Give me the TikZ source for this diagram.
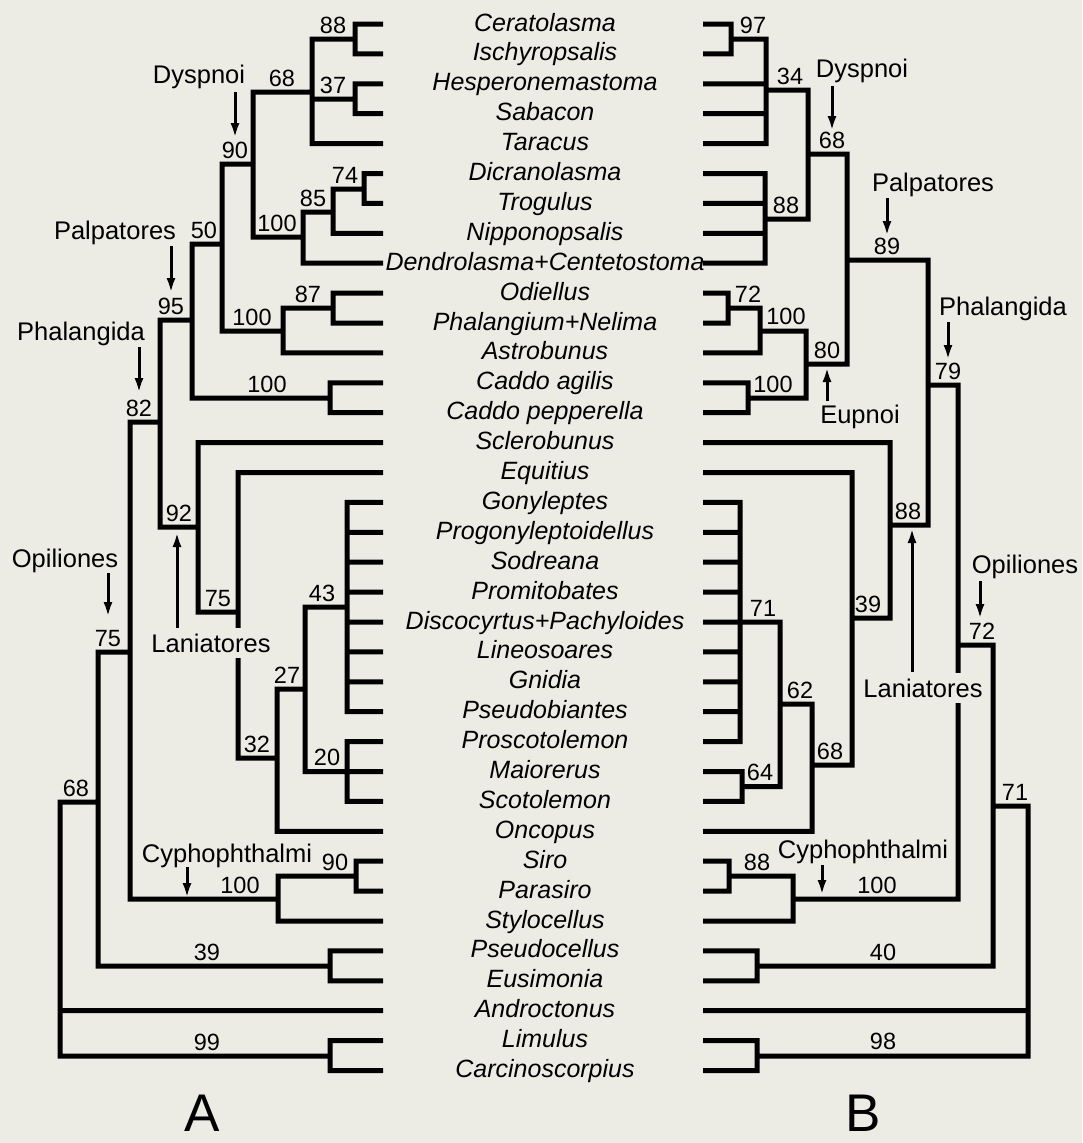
\documentclass[tikz,border=0pt]{standalone}
\usepackage{fontspec}
\setmainfont{Liberation Sans}
\usetikzlibrary{arrows.meta}
\definecolor{bg}{RGB}{236,236,229}
\begin{document}
\begin{tikzpicture}[x=1pt,y=-1pt,
  br/.style={line width=5pt, line join=miter},
  tax/.style={font=\fontsize{25}{30}\selectfont\itshape, anchor=base, inner sep=0pt},
  num/.style={font=\fontsize{23.5}{28}\selectfont, anchor=base, inner sep=0pt},
  clade/.style={font=\fontsize{25.5}{30}\selectfont, anchor=base, inner sep=0pt},
  gapclade/.style={clade, fill=bg, inner xsep=0pt, inner ysep=6pt},
  arr/.style={line width=3pt, -{Latex[length=15pt,width=9pt]}},
  panel/.style={font=\fontsize{53}{60}\selectfont, anchor=base, inner sep=0pt}]
\fill[bg] (0,0) rectangle (1082,1143);
\useasboundingbox (0,0) rectangle (1082,1143);

% taxa
\foreach \i/\t in {0/Ceratolasma, 1/Ischyropsalis, 2/Hesperonemastoma, 3/Sabacon,
  4/Taracus, 5/Dicranolasma, 6/Trogulus, 7/Nipponopsalis, 8/Dendrolasma+Centetostoma,
  9/Odiellus, 10/Phalangium+Nelima, 11/Astrobunus, 12/Caddo agilis, 13/Caddo pepperella,
  14/Sclerobunus, 15/Equitius, 16/Gonyleptes, 17/Progonyleptoidellus, 18/Sodreana,
  19/Promitobates, 20/Discocyrtus+Pachyloides, 21/Lineosoares, 22/Gnidia,
  23/Pseudobiantes, 24/Proscotolemon, 25/Maiorerus, 26/Scotolemon, 27/Oncopus,
  28/Siro, 29/Parasiro, 30/Stylocellus, 31/Pseudocellus, 32/Eusimonia,
  33/Androctonus, 34/Limulus, 35/Carcinoscorpius} {
  \coordinate (L\i) at (383, 24+29.9*\i);
  \coordinate (R\i) at (703, 24+29.9*\i);
  \node[tax] (t\i) at (545, 31+29.9*\i) {\t};
}

% ---------- tree A ----------
\coordinate (a88) at (355,39);
\coordinate (a37) at (355,99);
\coordinate (a68) at (312,92);
\coordinate (a74) at (364,189);
\coordinate (a85) at (333,212);
\coordinate (a100d) at (303,237);
\coordinate (a90) at (253,164);
\coordinate (a87) at (333,308);
\coordinate (a100p) at (283,331);
\coordinate (a50) at (222,244);
\coordinate (a100c) at (330,398);
\coordinate (a95) at (192,320);
\coordinate (a43) at (347,607);
\coordinate (a20) at (347,771.5);
\coordinate (a27) at (305,689);
\coordinate (a32) at (277,758);
\coordinate (a75l) at (238,612);
\coordinate (a92) at (198,527);
\coordinate (a82) at (160,422);
\coordinate (a90c) at (356,876);
\coordinate (a100cy) at (278,899);
\coordinate (a75o) at (130,652);
\coordinate (a39) at (330,966);
\coordinate (a68o) at (98,802);
\coordinate (a99) at (330,1056);
\coordinate (aroot) at (60,930);

\draw[br] (a88) |- (L0)  (a88) |- (L1)
  (a37) |- (L2)  (a37) |- (L3)
  (a68) |- (a88)  (a68) |- (a37)  (a68) |- (L4)
  (a74) |- (L5)  (a74) |- (L6)
  (a85) |- (a74)  (a85) |- (L7)
  (a100d) |- (a85)  (a100d) |- (L8)
  (a90) |- (a68)  (a90) |- (a100d)
  (a87) |- (L9)  (a87) |- (L10)
  (a100p) |- (a87)  (a100p) |- (L11)
  (a50) |- (a90)  (a50) |- (a100p)
  (a100c) |- (L12)  (a100c) |- (L13)
  (a95) |- (a50)  (a95) |- (a100c)
  (a43) |- (L16)  (a43) |- (L17)  (a43) |- (L18)  (a43) |- (L19)
  (a43) |- (L20)  (a43) |- (L21)  (a43) |- (L22)  (a43) |- (L23)
  (a20) |- (L24)  (a20) -- (L25)  (a20) |- (L26)
  (a27) |- (a43)  (a27) |- (a20)
  (a32) |- (a27)  (a32) |- (L27)
  (a75l) |- (L15)  (a75l) |- (a32)
  (a92) |- (L14)  (a92) |- (a75l)
  (a82) |- (a95)  (a82) |- (a92)
  (a90c) |- (L28)  (a90c) |- (L29)
  (a100cy) |- (a90c)  (a100cy) |- (L30)
  (a75o) |- (a82)  (a75o) |- (a100cy)
  (a39) |- (L31)  (a39) |- (L32)
  (a68o) |- (a75o)  (a68o) |- (a39)
  (a99) |- (L34)  (a99) |- (L35)
  (aroot) |- (a68o)  (aroot) |- (L33)  (aroot) |- (a99);

% support values A
\node[num] (na88) at (333,33) {88};
\node[num] (na37) at (333,93) {37};
\node[num] (na68) at (282,86) {68};
\node[num] (na74) at (345,183) {74};
\node[num] (na85) at (313,206) {85};
\node[num] (na100d) at (277,231) {100};
\node[num] (na90) at (235,158) {90};
\node[num] (na87) at (308,302) {87};
\node[num] (na100p) at (252,325) {100};
\node[num] (na50) at (204,238) {50};
\node[num] (na100c) at (267,392) {100};
\node[num] (na95) at (171,314) {95};
\node[num] (na43) at (322,601) {43};
\node[num] (na20) at (327,765.5) {20};
\node[num] (na27) at (287,683) {27};
\node[num] (na32) at (257,752) {32};
\node[num] (na75l) at (218,606) {75};
\node[num] (na92) at (179,521) {92};
\node[num] (na82) at (139,416) {82};
\node[num] (na90c) at (335,870) {90};
\node[num] (na100cy) at (240,893) {100};
\node[num] (na75o) at (108,646) {75};
\node[num] (na39) at (207,960) {39};
\node[num] (na68o) at (76,796) {68};
\node[num] (na99) at (207,1050) {99};

% clade labels A
\node[clade] (cDysA) at (199,83) {Dyspnoi};
\node[clade] (cPalA) at (115,239) {Palpatores};
\node[clade] (cPhaA) at (81,340) {Phalangida};
\node[clade] (cOpiA) at (65,567) {Opiliones};
\node[gapclade] (cLanA) at (211,652) {Laniatores};
\node[clade] (cCypA) at (227,862) {Cyphophthalmi};
\coordinate (dA1) at (235,92);  \coordinate (dA2) at (235,138);
\coordinate (pA1) at (171,246); \coordinate (pA2) at (171,293);
\coordinate (hA1) at (139,347); \coordinate (hA2) at (139,393);
\coordinate (oA1) at (108,573); \coordinate (oA2) at (108,617);
\coordinate (lA1) at (177,628); \coordinate (lA2) at (177,532);
\coordinate (yA1) at (187,867); \coordinate (yA2) at (187,898);
\draw[arr] (dA1) -- (dA2);
\draw[arr] (pA1) -- (pA2);
\draw[arr] (hA1) -- (hA2);
\draw[arr] (oA1) -- (oA2);
\draw[arr] (lA1) -- (lA2);
\draw[arr] (yA1) -- (yA2);

% ---------- tree B ----------
\coordinate (b97) at (731,39);
\coordinate (b34) at (766,90);
\coordinate (b88) at (765,219);
\coordinate (b68) at (808,154);
\coordinate (b72) at (728,308);
\coordinate (b100p) at (760,331);
\coordinate (b100c) at (748,398);
\coordinate (b80) at (806,364);
\coordinate (b89) at (847,260);
\coordinate (b71) at (740,622);
\coordinate (b64) at (742,786.5);
\coordinate (b62) at (780,704);
\coordinate (b68l) at (812,765);
\coordinate (b39) at (852,618);
\coordinate (b88l) at (890,525);
\coordinate (b79) at (928,385);
\coordinate (b88c) at (729,876);
\coordinate (b100cy) at (793,899);
\coordinate (b72o) at (958,645);
\coordinate (b40) at (757,966);
\coordinate (b71o) at (993,806);
\coordinate (b98) at (757,1056);
\coordinate (broot) at (1028,930);

\draw[br] (b97) |- (R0)  (b97) |- (R1)
  (b34) |- (b97)  (b34) |- (R2)  (b34) |- (R3)  (b34) |- (R4)
  (b88) |- (R5)  (b88) |- (R6)  (b88) |- (R7)  (b88) |- (R8)
  (b68) |- (b34)  (b68) |- (b88)
  (b72) |- (R9)  (b72) |- (R10)
  (b100p) |- (b72)  (b100p) |- (R11)
  (b100c) |- (R12)  (b100c) |- (R13)
  (b80) |- (b100p)  (b80) |- (b100c)
  (b89) |- (b68)  (b89) |- (b80)
  (b71) |- (R16)  (b71) |- (R17)  (b71) |- (R18)  (b71) |- (R19)  (b71) -- (R20)
  (b71) |- (R21)  (b71) |- (R22)  (b71) |- (R23)  (b71) |- (R24)
  (b64) |- (R25)  (b64) |- (R26)
  (b62) |- (b71)  (b62) |- (b64)
  (b68l) |- (b62)  (b68l) |- (R27)
  (b39) |- (R15)  (b39) |- (b68l)
  (b88l) |- (R14)  (b88l) |- (b39)
  (b79) |- (b89)  (b79) |- (b88l)
  (b88c) |- (R28)  (b88c) |- (R29)
  (b100cy) |- (b88c)  (b100cy) |- (R30)
  (b72o) |- (b79)  (b72o) |- (b100cy)
  (b40) |- (R31)  (b40) |- (R32)
  (b71o) |- (b72o)  (b71o) |- (b40)
  (b98) |- (R34)  (b98) |- (R35)
  (broot) |- (b71o)  (broot) |- (R33)  (broot) |- (b98);

% support values B
\node[num] (nb97) at (753,33) {97};
\node[num] (nb34) at (790,84) {34};
\node[num] (nb88) at (786,213) {88};
\node[num] (nb68) at (832,148) {68};
\node[num] (nb89) at (887,254) {89};
\node[num] (nb72) at (748,302) {72};
\node[num] (nb100p) at (786,324.5) {100};
\node[num] (nb100c) at (773,392) {100};
\node[num] (nb80) at (827,358) {80};
\node[num] (nb79) at (948,379) {79};
\node[num] (nb88l) at (908,519) {88};
\node[num] (nb39) at (868,612) {39};
\node[num] (nb71) at (763,616) {71};
\node[num] (nb62) at (800,698) {62};
\node[num] (nb64) at (760,780.5) {64};
\node[num] (nb68l) at (830,759) {68};
\node[num] (nb72o) at (982,639) {72};
\node[num] (nb71o) at (1015,800) {71};
\node[num] (nb88c) at (757,870) {88};
\node[num] (nb100cy) at (877,893) {100};
\node[num] (nb40) at (883,960) {40};
\node[num] (nb98) at (883,1049.5) {98};

% clade labels B
\node[clade] (cDysB) at (862,77) {Dyspnoi};
\node[clade] (cPalB) at (933,191) {Palpatores};
\node[clade] (cPhaB) at (1003,315) {Phalangida};
\node[clade] (cEupB) at (860,423) {Eupnoi};
\node[gapclade] (cLanB) at (923,697) {Laniatores};
\node[clade] (cOpiB) at (1025,573) {Opiliones};
\node[clade] (cCypB) at (863,858) {Cyphophthalmi};
\coordinate (dB1) at (832,86);  \coordinate (dB2) at (832,131);
\coordinate (pB1) at (887,198); \coordinate (pB2) at (887,236);
\coordinate (hB1) at (948,322); \coordinate (hB2) at (948,360);
\coordinate (eB1) at (827,401); \coordinate (eB2) at (827,367);
\coordinate (lB1) at (912,672); \coordinate (lB2) at (912,528);
\coordinate (oB1) at (980,581); \coordinate (oB2) at (980,619);
\coordinate (yB1) at (822,865); \coordinate (yB2) at (822,895);
\draw[arr] (dB1) -- (dB2);
\draw[arr] (pB1) -- (pB2);
\draw[arr] (hB1) -- (hB2);
\draw[arr] (eB1) -- (eB2);
\draw[arr] (lB1) -- (lB2);
\draw[arr] (oB1) -- (oB2);
\draw[arr] (yB1) -- (yB2);

% panel letters
\node[panel] (pA) at (202,1131) {A};
\node[panel] (pB) at (863,1131) {B};
\end{tikzpicture}
\end{document}
